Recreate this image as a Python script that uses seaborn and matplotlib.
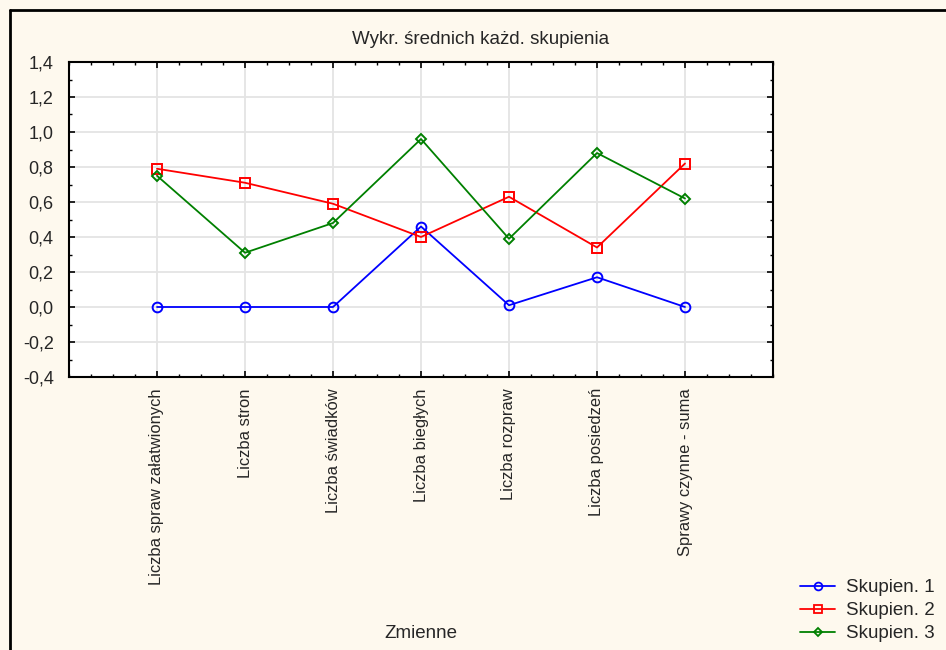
import matplotlib
matplotlib.use("Agg")
import matplotlib.pyplot as plt
import seaborn as sns
import numpy as np
from matplotlib.ticker import AutoMinorLocator, MultipleLocator, FuncFormatter
from matplotlib.lines import Line2D

sns.set_theme(style="white")
plt.rcParams['font.family'] = ['Liberation Sans', 'DejaVu Sans']

categories = ["Liczba spraw załatwionych", "Liczba stron", "Liczba świadków",
              "Liczba biegłych", "Liczba rozpraw", "Liczba posiedzeń",
              "Sprawy czynne - suma"]
skupien1 = [0.0, 0.0, 0.0, 0.46, 0.01, 0.17, 0.0]
skupien2 = [0.79, 0.71, 0.59, 0.40, 0.63, 0.34, 0.82]
skupien3 = [0.75, 0.31, 0.48, 0.96, 0.39, 0.88, 0.62]
series_names = ["Skupien. 1", "Skupien. 2", "Skupien. 3"]

bg = "#FEF9EE"
fig = plt.figure(figsize=(9.46, 6.5), dpi=100, facecolor=bg)
ax = fig.add_axes([69/946, 1-377/650, (773-69)/946, (377-62)/650])
ax.set_facecolor("white")

styles = [("#0000FF", "o", 7), ("#FF0000", "s", 7), ("#008000", "D", 5)]
for vals, name, (c, m, ms) in zip([skupien1, skupien2, skupien3], series_names, styles):
    sns.lineplot(x=categories, y=vals, ax=ax, color=c, marker=m, markersize=ms,
                 markerfacecolor="none", markeredgecolor=c, markeredgewidth=1.4,
                 linewidth=1.3, sort=False, legend=False)

ax.set_xlim(-1, 7)
ax.set_ylim(-0.4, 1.4)
ax.yaxis.set_major_locator(MultipleLocator(0.2))
ax.yaxis.set_minor_locator(AutoMinorLocator(2))
ax.xaxis.set_minor_locator(AutoMinorLocator(4))
ax.yaxis.set_major_formatter(FuncFormatter(lambda v, p: f"{v:.1f}".replace(".", ",").replace("-0,0", "0,0")))
ax.grid(True, which="major", color="#E4E4E4", linewidth=1.3)
ax.set_axisbelow(True)
for s in ax.spines.values():
    s.set_color("black")
    s.set_linewidth(1.5)
ax.tick_params(which="both", direction="in", top=True, right=True, bottom=True, left=True,
               color="black")
ax.tick_params(which="major", length=4, width=1.2)
ax.tick_params(which="minor", length=2.5, width=1.0)
ax.tick_params(axis="y", pad=11, labelsize=13)
ax.tick_params(axis="x", pad=8, labelsize=11.9)
plt.setp(ax.get_xticklabels(), rotation=90, ha="center", va="top")

fig.text(481/946, 1-40/650, "Wykr. średnich każd. skupienia", ha="center", va="center", fontsize=13.5)
fig.text(421/946, 1-633/650, "Zmienne", ha="center", va="center", fontsize=13.5)

handles = [Line2D([0], [0], color=c, marker=m, markersize=ms*0.8, markerfacecolor="none",
                  markeredgecolor=c, markeredgewidth=1.3, linewidth=1.3)
           for (c, m, ms) in styles]
fig.legend(handles, series_names, loc="lower right", bbox_to_anchor=(942/946, 0.0),
           frameon=False, fontsize=13.5, handlelength=1.9, handletextpad=0.55,
           labelspacing=0.32, borderaxespad=0.2, borderpad=0.2)

# figure frame: left and top lines
fig.add_artist(Line2D([10/946, 10/946], [0, 1-10/650], transform=fig.transFigure, color="black", linewidth=2))
fig.add_artist(Line2D([10/946, 1], [1-10/650, 1-10/650], transform=fig.transFigure, color="black", linewidth=2))

fig.savefig("out.png", dpi=100, facecolor=bg)
